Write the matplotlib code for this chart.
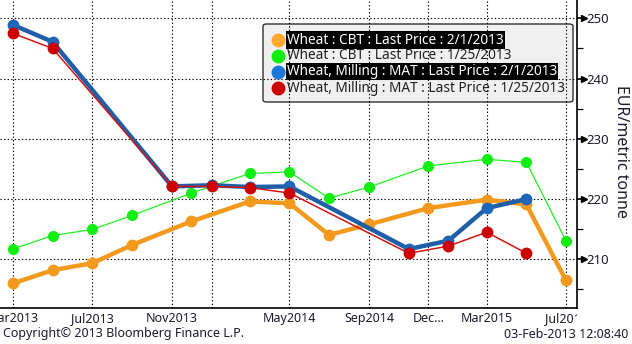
import matplotlib
matplotlib.use('Agg')
import matplotlib.pyplot as plt
import matplotlib.transforms as mtransforms
from matplotlib.patches import FancyBboxPatch
import pandas as pd

plt.rcParams['font.family'] = ['Noto Sans', 'DejaVu Sans']

# ---- data ----
cbt_months = ['2013-03', '2013-05', '2013-07', '2013-09', '2013-12', '2014-03', '2014-05',
              '2014-07', '2014-09', '2014-12', '2015-03', '2015-05', '2015-07']
cbt_feb01 = [206.0, 208.2, 209.35, 212.4, 216.3, 219.6, 219.3, 214.05, 215.8, 218.5, 219.9, 219.1, 206.5]
cbt_jan25 = [211.7, 213.95, 214.95, 217.3, 221.0, 224.25, 224.5, 220.15, 222.0, 225.5, 226.6, 226.1, 213.1]
mat_months = ['2013-03', '2013-05', '2013-11', '2014-01', '2014-03', '2014-05',
              '2014-11', '2015-01', '2015-03', '2015-05']
mat_feb01 = [248.9, 246.1, 222.1, 222.3, 222.0, 222.1, 211.7, 213.1, 218.5, 220.0]
mat_jan25 = [247.5, 245.0, 222.1, 222.1, 221.9, 221.0, 211.0, 212.2, 214.5, 211.0]
tick_months = ['2013-03', '2013-07', '2013-11', '2014-01', '2014-05', '2014-09', '2014-12', '2015-03', '2015-07']
tick_labels = ['Mar2013', 'Jul2013', 'Nov2013', '', 'May2014', 'Sep2014', 'Dec...', 'Mar2015', 'Jul2015']
y_major = [210, 220, 230, 240, 250]
y_minor = [205, 215, 225, 235, 245]
series_names = ['Wheat : CBT : Last Price : 2/1/2013',
                'Wheat : CBT : Last Price : 1/25/2013',
                'Wheat, Milling : MAT : Last Price : 2/1/2013',
                'Wheat, Milling : MAT : Last Price : 1/25/2013']

cbt_x = pd.to_datetime(cbt_months)
mat_x = pd.to_datetime(mat_months)
tick_x = pd.to_datetime(tick_months)

TXT = '#1c1c30'
fig = plt.figure(figsize=(6.32, 3.44), dpi=100)
fig.patch.set_facecolor('white')
ax = fig.add_axes([0, 1 - 308 / 344, 577 / 632, 308 / 344])
ax.set_facecolor('white')

# grid (manual so it can sit above the legend box)
for tx in tick_x:
    ax.axvline(tx, color='black', lw=0.8, ls=(0, (1.2, 2.0)), zorder=2)
for ty in y_major:
    ax.axhline(ty, color='black', lw=0.8, ls=(0, (1.2, 2.0)), zorder=2)

ax.plot(cbt_x, cbt_feb01, color='#F39A1E', lw=3.2, marker='o', ms=7.5,
        mfc='#F39A1E', mec='#F39A1E', zorder=4)
ax.plot(cbt_x, cbt_jan25, color='#22EE22', lw=0.9, marker='o', ms=7,
        mfc='#11EE11', mec='#11EE11', zorder=3)
ax.plot(mat_x, mat_feb01, color='#1F5FA8', lw=3.2, marker='o', ms=7.5,
        mfc='#1F66B8', mec='#1F66B8', zorder=5)
ax.plot(mat_x, mat_jan25, color='#D21414', lw=1.1, marker='o', ms=7.5,
        mfc='#CC0000', mec='#CC0000', zorder=6)

ax.set_xlim(pd.Timestamp('2013-02-09'), pd.Timestamp('2015-07-18'))
ax.set_ylim(201.92, 253.04)

for s in ['left', 'top']:
    ax.spines[s].set_visible(False)
ax.spines['right'].set_color('black')
ax.spines['bottom'].set_color('black')
ax.spines['right'].set_linewidth(1.2)
ax.spines['bottom'].set_linewidth(1.2)

ax.set_xticks(tick_x)
ax.set_xticklabels(tick_labels)
ax.tick_params(axis='x', length=0, pad=3, labelsize=9, labelcolor=TXT)
clipbox = mtransforms.TransformedBbox(
    mtransforms.Bbox.from_extents(-1, 0, 1, 1),
    mtransforms.blended_transform_factory(ax.transAxes, fig.transFigure))
for lab in ax.get_xticklabels():
    lab.set_clip_box(clipbox)
    lab.set_clip_on(True)

ax.yaxis.tick_right()
ax.set_yticks(y_major)
ax.set_yticks(y_minor, minor=True)
ax.tick_params(axis='y', which='major', length=4, width=1.2, color='black', pad=3,
               labelsize=9.5, labelcolor=TXT, right=True, left=False)
ax.tick_params(axis='y', which='minor', length=4, width=0.9, color='black',
               right=True, left=False)
tr = mtransforms.blended_transform_factory(ax.transAxes, ax.transData)
ax.plot([1.012] * len(y_major), y_major, ls='none', marker='>', ms=4.5,
        color='black', transform=tr, clip_on=False, zorder=7)

fig.text(0.983, 0.559, 'EUR/metric tonne', rotation=270, ha='center', va='center',
         fontsize=11.5, color=TXT)

# legend (manual)
lx0, lx1 = 263 / 632, 573 / 632
ly1, ly0 = 1 - 24 / 344, 1 - 102 / 344
box = FancyBboxPatch((lx0, ly0), lx1 - lx0, ly1 - ly0,
                     boxstyle='round,pad=0,rounding_size=0.006',
                     transform=fig.transFigure, facecolor='#F0F0F0',
                     edgecolor='#303030', lw=1.0, zorder=1.5)
ax.add_artist(box)
box.set_clip_on(False)
leg_colors = ['#FFA833', '#11EE11', '#1A78D8', '#CC0000']
leg_rows = [40, 55.5, 71.5, 88]
highlight = [True, False, True, False]
for name, c, ry, hl in zip(series_names, leg_colors, leg_rows, highlight):
    yy = 1 - ry / 344
    fig.lines.append(plt.Line2D([278 / 632], [yy], marker='o', ms=9, color=c,
                                transform=fig.transFigure, zorder=8))
    if hl:
        fig.text(287 / 632, yy, name, ha='left', va='center', fontsize=9.8,
                 color='white', zorder=8,
                 bbox=dict(facecolor='black', edgecolor='none', pad=0.8))
    else:
        fig.text(287 / 632, yy, name, ha='left', va='center', fontsize=9.8,
                 color='#202020', zorder=8)

fig.text(3 / 632, 1 - 334 / 344, 'Copyright\u00a9 2013 Bloomberg Finance L.P.', ha='left',
         va='center', fontsize=9, color=TXT)
fig.text(628 / 632, 1 - 334 / 344, '03-Feb-2013 12:08:40', ha='right', va='center',
         fontsize=9, color=TXT)

fig.savefig('out.png', dpi=100, facecolor='white')
